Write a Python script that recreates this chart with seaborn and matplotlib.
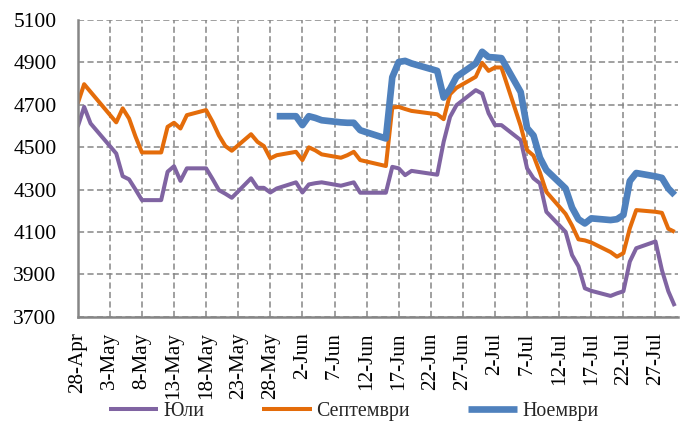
import matplotlib
matplotlib.use('Agg')
import matplotlib.pyplot as plt
import seaborn as sns
import pandas as pd

# Trading days (2015)
dates = ['2015-04-28', '2015-04-29', '2015-04-30', '2015-05-04', '2015-05-05', '2015-05-06',
         '2015-05-07', '2015-05-08', '2015-05-11', '2015-05-12', '2015-05-13', '2015-05-14',
         '2015-05-15', '2015-05-18', '2015-05-19', '2015-05-20', '2015-05-21', '2015-05-22',
         '2015-05-25', '2015-05-26', '2015-05-27', '2015-05-28', '2015-05-29', '2015-06-01',
         '2015-06-02', '2015-06-03', '2015-06-04', '2015-06-05', '2015-06-08', '2015-06-09',
         '2015-06-10', '2015-06-11', '2015-06-12', '2015-06-15', '2015-06-16', '2015-06-17',
         '2015-06-18', '2015-06-19', '2015-06-23', '2015-06-24', '2015-06-25', '2015-06-26',
         '2015-06-29', '2015-06-30', '2015-07-01', '2015-07-02', '2015-07-03', '2015-07-06',
         '2015-07-07', '2015-07-08', '2015-07-09', '2015-07-10', '2015-07-13', '2015-07-14',
         '2015-07-15', '2015-07-16', '2015-07-17', '2015-07-20', '2015-07-21', '2015-07-22',
         '2015-07-23', '2015-07-24', '2015-07-27', '2015-07-28', '2015-07-29', '2015-07-30']

jul = [4596, 4690, 4612, 4470, 4363, 4348, 4300, 4250, 4250, 4384, 4410, 4341,
       4400, 4400, 4350, 4297, 4280, 4261, 4353, 4308, 4308, 4286, 4305, 4334,
       4286, 4324, 4330, 4334, 4318, 4326, 4334, 4285, 4285, 4285, 4407, 4400,
       4368, 4388, 4370, 4525, 4643, 4698, 4769, 4753, 4660, 4604, 4604, 4533,
       4400, 4353, 4329, 4195, 4100, 3991, 3938, 3834, 3822, 3798, 3810, 3820,
       3960, 4023, 4055, 3920, 3820, 3750]

sep = [4706, 4797, 4761, 4617, 4683, 4635, 4550, 4475, 4475, 4596, 4615, 4588,
       4651, 4675, 4620, 4555, 4505, 4483, 4561, 4525, 4505, 4447, 4462, 4478,
       4439, 4499, 4485, 4466, 4450, 4462, 4478, 4439, 4432, 4411, 4687, 4690,
       4680, 4671, 4655, 4632, 4750, 4780, 4832, 4898, 4860, 4876, 4876, 4600,
       4486, 4460, 4380, 4289, 4185, 4130, 4065, 4060, 4050, 4005, 3983, 4000,
       4117, 4203, 4195, 4190, 4115, 4100]

nov = [None] * 22 + [
       4646, 4646, 4604, 4646, 4638, 4627, 4617, 4615, 4615, 4580, 4570, 4541,
       4830, 4902, 4907, 4895, 4860, 4734, 4775, 4832, 4895, 4950, 4925, 4923,
       4920, 4760, 4590, 4555, 4450, 4392, 4305, 4215, 4160, 4140, 4164, 4156,
       4160, 4180, 4340, 4378, 4362, 4355, 4305, 4274]

series_names = ['Юли', 'Септември', 'Ноември']
y_ticks = [3700, 3900, 4100, 4300, 4500, 4700, 4900, 5100]
x_tick_labels = ['28-Apr', '3-May', '8-May', '13-May', '18-May', '23-May', '28-May',
                 '2-Jun', '7-Jun', '12-Jun', '17-Jun', '22-Jun', '27-Jun', '2-Jul',
                 '7-Jul', '12-Jul', '17-Jul', '22-Jul', '27-Jul']

colors = ['#8064A2', '#E46C0A', '#4F81BD']
widths = [2.9, 2.9, 4.8]

sns.set_theme(style='white')
plt.rcParams['font.family'] = ['Liberation Serif', 'DejaVu Serif']

df = pd.DataFrame({'date': pd.to_datetime(dates), series_names[0]: jul,
                   series_names[1]: sep, series_names[2]: nov})
long_df = df.melt(id_vars='date', var_name='series', value_name='value').dropna()

fig = plt.figure(figsize=(6.8, 4.3), dpi=100)
ax = fig.add_axes([0.1143, 0.2635, 0.8827, 0.69])

for name, c, w in zip(series_names, colors, widths):
    sub = long_df[long_df['series'] == name]
    sns.lineplot(data=sub, x='date', y='value', color=c, linewidth=w, ax=ax,
                 label=name, legend=False, solid_joinstyle='round', solid_capstyle='butt')

start = pd.Timestamp('2015-04-28')
tick_dates = [start + pd.Timedelta(days=5 * i) for i in range(len(x_tick_labels))]
ax.set_xticks(tick_dates)
ax.set_xticklabels(x_tick_labels, rotation=90)
ax.set_xlim(start, start + pd.Timedelta(days=93.5))
ax.set_ylim(3700, 5100)
ax.set_yticks(y_ticks)
ax.set_xlabel('')
ax.set_ylabel('')

ax.grid(True, linestyle=(0, (4, 2.2)), color='#868686', linewidth=1.1)
ax.set_axisbelow(True)
for s in ['top', 'right']:
    ax.spines[s].set_visible(False)
for s in ['left', 'bottom']:
    ax.spines[s].set_color('#868686')
    ax.spines[s].set_linewidth(1.8)

ax.tick_params(axis='both', direction='out', length=4.3, width=1.1, color='#868686',
               labelcolor='black')
ax.tick_params(axis='y', pad=11, labelsize=15.5)
ax.tick_params(axis='x', pad=7, labelsize=15.2)

handles, labels = ax.get_legend_handles_labels()
fig.legend(handles, labels, loc='center', bbox_to_anchor=(0.52, 0.042), ncol=3,
           frameon=False, handlelength=2.5, columnspacing=2.9, handletextpad=0.25,
           fontsize=14.3)

fig.savefig('out.png', dpi=100)
